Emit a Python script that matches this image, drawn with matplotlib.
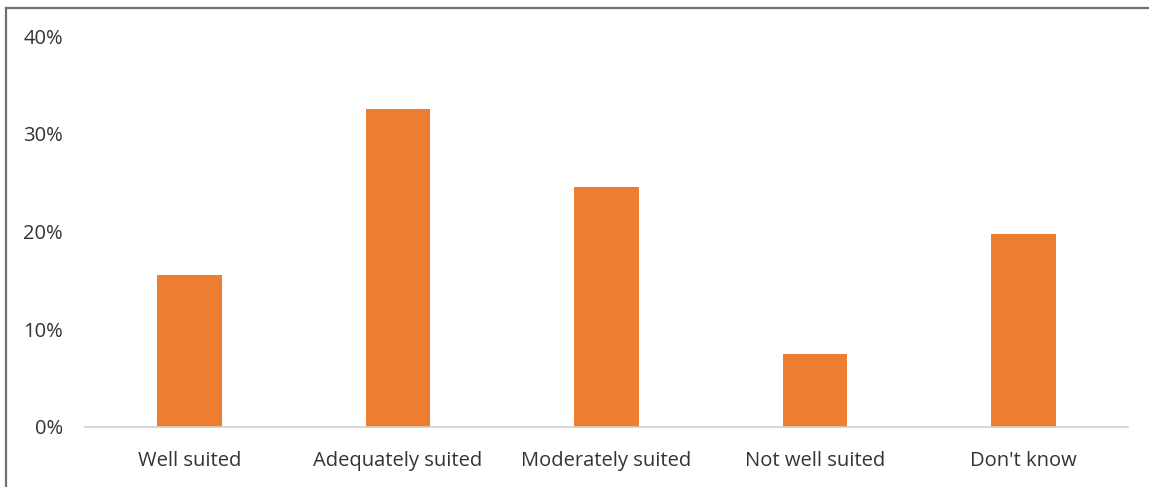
import matplotlib.pyplot as plt
from matplotlib.lines import Line2D
from matplotlib.ticker import PercentFormatter

categories = ["Well suited", "Adequately suited", "Moderately suited", "Not well suited", "Don't know"]
shares = [15.5, 32.5, 24.6, 7.5, 19.7]
yticks = [0, 10, 20, 30, 40]

plt.rcParams['font.family'] = ['Open Sans', 'DejaVu Sans']

W, H = 1149, 487
fig = plt.figure(figsize=(W / 100, H / 100), dpi=100)
ax = fig.add_axes([85 / W, 1 - 427 / H, (1128 - 85) / W, (427 - 36) / H])

x = range(len(categories))
ax.bar(x, shares, width=0.31, color='#ED7D31', zorder=2)

ax.set_xlim(-0.5, len(categories) - 0.5)
ax.set_ylim(0, 40)
ax.set_yticks(yticks)
ax.yaxis.set_major_formatter(PercentFormatter(decimals=0))
ax.set_xticks(list(x))
ax.set_xticklabels(categories)
ax.tick_params(axis='both', length=0, labelsize=14.5, colors='#333333')
ax.tick_params(axis='x', pad=17.5)
ax.tick_params(axis='y', pad=16)

for side in ['top', 'right', 'left']:
    ax.spines[side].set_visible(False)
ax.spines['bottom'].set_color('#D0D0D0')
ax.spines['bottom'].set_linewidth(1.2)

# frame lines along top and left edge
fig.add_artist(Line2D([5.5 / W, 5.5 / W], [0, 1 - 8 / H], color='#707070', lw=1.6))
fig.add_artist(Line2D([5.5 / W, 1], [1 - 8 / H, 1 - 8 / H], color='#707070', lw=1.6))

fig.savefig('out.png', dpi=100)
